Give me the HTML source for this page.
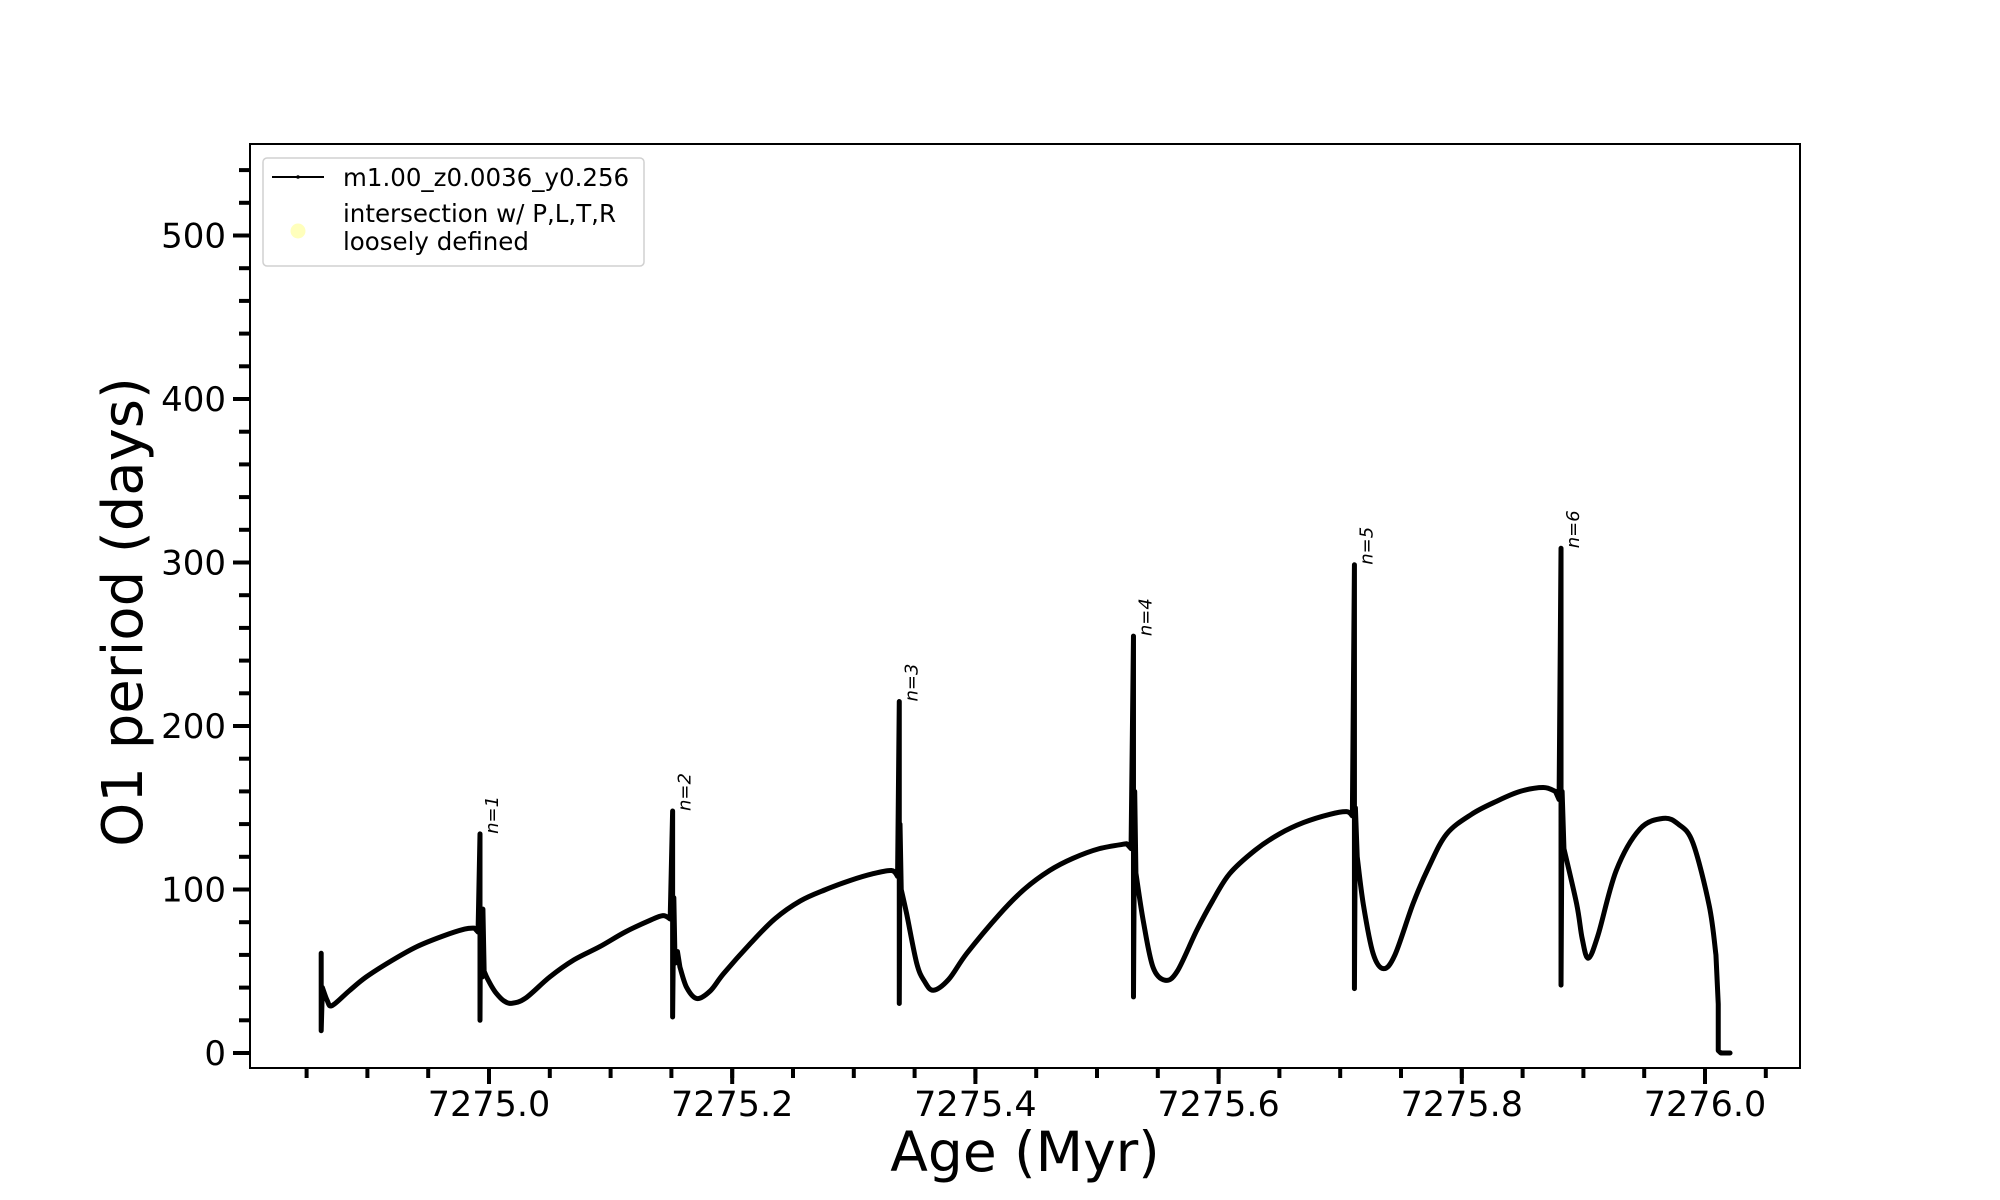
<!DOCTYPE html>
<html><head><meta charset="utf-8"><style>
html,body{margin:0;padding:0;background:#fff;}
svg{display:block;font-family:"DejaVu Sans","Liberation Sans",sans-serif;}
</style></head><body>
<svg id="chart" width="2000" height="1200" viewBox="0 0 2000 1200" xmlns="http://www.w3.org/2000/svg">
<rect x="0" y="0" width="2000" height="1200" fill="#fff"/>
<g id="marks"></g>
<g id="axes"></g>
<g>
<rect x="263" y="158" width="381" height="108" rx="4" fill="#fff" fill-opacity="0.8" stroke="#d0d0d0" stroke-width="1.5"/>
<line x1="272" y1="177" x2="324" y2="177" stroke="#000" stroke-width="2"/>
<circle cx="298" cy="177" r="1.8" fill="#000"/>
<text x="343" y="186" font-size="24.5" fill="#000">m1.00_z0.0036_y0.256</text>
<circle cx="298" cy="231" r="7.5" fill="#ffffb0" fill-opacity="0.85"/>
<text x="343" y="222" font-size="24.5" fill="#000">intersection w/ P,L,T,R</text>
<text x="343" y="250" font-size="24.5" fill="#000">loosely defined</text>
</g>
<text x="1025" y="1171" font-size="55" text-anchor="middle" fill="#000">Age (Myr)</text>
<text transform="translate(142,612) rotate(-90)" font-size="56" text-anchor="middle" fill="#000">O1 period (days)</text>
</svg>
<script>
const ages = [7274.862,7274.862,7274.862,7274.863,7274.867,7274.871,7274.885,7274.899,7274.92,7274.9405,7274.962,7274.98,7274.988,7274.991,
7274.9926,7274.9926,7274.993,7274.9945,7274.995,7274.996,7274.998,7275.002,7275.006,7275.012,7275.0187,7275.03,7275.05,7275.07,7275.091,7275.112,7275.132,7275.143,7275.149,
7275.151,7275.151,7275.152,7275.153,7275.155,7275.157,7275.1626,7275.171,7275.182,7275.193,7275.215,7275.235,7275.256,7275.277,7275.297,7275.315,7275.331,7275.336,
7275.3374,7275.3374,7275.338,7275.339,7275.3435,7275.3517,7275.358,7275.3654,7275.378,7275.393,7275.42,7275.44,7275.461,7275.48,7275.502,7275.5244,7275.528,
7275.530,7275.530,7275.531,7275.532,7275.538,7275.546,7275.556,7275.566,7275.582,7275.595,7275.609,7275.63,7275.65,7275.67,7275.6916,7275.7053,7275.710,
7275.7117,7275.7117,7275.7125,7275.714,7275.719,7275.727,7275.7355,7275.745,7275.76,7275.773,7275.7876,7275.808,7275.8287,7275.848,7275.867,7275.877,7275.88,
7275.8816,7275.8816,7275.8825,7275.884,7275.8945,7275.899,7275.904,7275.912,7275.927,7275.9465,7275.9657,7275.978,7275.99,7276.0035,7276.009,7276.0109,7276.0109,7276.013,7276.0206];
const periods = [40,61,13.6,40,32,29,38,46.5,56.5,65,71.5,75.8,76.4,74,
134,20,88,46.5,88,50,46.5,41,36.5,32,30.4,33.5,46.5,57,65,74,81,84,82,
148,22,95,55,62,52.6,40,33.3,38,48.6,67,82,93,100,105.5,109.5,111.6,108,
215,30.3,140,100,85,55,44,38.4,45,61,85,100,111.6,119,125,128,125,
255,34.3,160,110,81,52.6,44.5,50,75,93,109.6,124,134,141,146,147.6,145,
298.6,39.4,150,120,91,61,51.6,60,91.5,114,134,146,154,160,162.4,160,155,
308.7,41.5,160,125,91,70,58,72,111.6,137,143.5,140,128.6,90,60,30,1.5,0,0];
const pulseLabels = ["n=1","n=2","n=3","n=4","n=5","n=6"];
const pulseAges = [7274.9926,7275.151,7275.3374,7275.530,7275.7117,7275.8816];
const pulsePeaks = [134,148,215,255,298.6,308.7];
const xMajorTicks = [7275.0,7275.2,7275.4,7275.6,7275.8,7276.0];
const xTickLabels = ["7275.0","7275.2","7275.4","7275.6","7275.8","7276.0"];
const yMajorTicks = [0,100,200,300,400,500];
const yTickLabels = ["0","100","200","300","400","500"];

const X0=250,X1=1800,Y0=144,Y1=1068;
function xs(v){return 489+(v-7275)*1216;}
function ys(v){return 1053-v*1.635;}
const NS="http://www.w3.org/2000/svg";
function mk(tag,attrs,parent){const e=document.createElementNS(NS,tag);for(const k in attrs)e.setAttribute(k,attrs[k]);parent.appendChild(e);return e;}
const marks=document.getElementById('marks');
const axes=document.getElementById('axes');

const P=ages.map((a,i)=>[xs(a),ys(periods[i])]);
const n=P.length;
function smoothGap(i,j){return i>=0&&j<n&&(P[j][0]-P[i][0])>4.5;}
let d="M"+P[0][0].toFixed(2)+","+P[0][1].toFixed(2);
for(let i=0;i<n-1;i++){
  const a=P[i],b=P[i+1];
  if(!smoothGap(i,i+1)){d+="L"+b[0].toFixed(2)+","+b[1].toFixed(2);continue;}
  const p0=smoothGap(i-1,i)?P[i-1]:a;
  const p3=smoothGap(i+1,i+2)?P[i+2]:b;
  const c1=[a[0]+(b[0]-p0[0])/6,a[1]+(b[1]-p0[1])/6];
  const c2=[b[0]-(p3[0]-a[0])/6,b[1]-(p3[1]-a[1])/6];
  d+="C"+c1[0].toFixed(2)+","+c1[1].toFixed(2)+" "+c2[0].toFixed(2)+","+c2[1].toFixed(2)+" "+b[0].toFixed(2)+","+b[1].toFixed(2);
}
const line=mk('path',{d:d,fill:"none",stroke:"#000","stroke-width":"5","stroke-linejoin":"round","stroke-linecap":"round"},marks);



for(let i=0;i<pulseLabels.length;i++){
  const t=mk('text',{transform:"translate("+(xs(pulseAges[i])+18).toFixed(1)+","+(ys(pulsePeaks[i])).toFixed(1)+") rotate(-90)","font-size":"18","font-style":"italic",fill:"#000"},marks);
  t.textContent=pulseLabels[i];
  
  
}

const frame=mk('rect',{x:X0,y:Y0,width:X1-X0,height:Y1-Y0,fill:"none",stroke:"#000","stroke-width":"2"},axes);



for(let k=0;k<25;k++){
  const v=7274.85+k*0.05; const px=xs(v);
  if(px<X0||px>X1)continue;
  const tk=mk('line',{x1:px,y1:Y1,x2:px,y2:Y1+10,stroke:"#000","stroke-width":"4"},axes);
  
  
}
for(let i=0;i<xMajorTicks.length;i++){
  const px=xs(xMajorTicks[i]);
  const tk=mk('line',{x1:px,y1:Y1,x2:px,y2:Y1+16,stroke:"#000","stroke-width":"4"},axes);
  
  
  const t=mk('text',{x:px,y:1116,"font-size":"35","text-anchor":"middle",fill:"#000"},axes);
  t.textContent=xTickLabels[i];
  
  
}
for(let v=20;v<=540;v+=20){
  if(v%100===0)continue;
  const py=ys(v);
  const tk=mk('line',{x1:X0-11,y1:py,x2:X0,y2:py,stroke:"#000","stroke-width":"4"},axes);
  
  
}
for(let i=0;i<yMajorTicks.length;i++){
  const py=ys(yMajorTicks[i]);
  const tk=mk('line',{x1:X0-17,y1:py,x2:X0,y2:py,stroke:"#000","stroke-width":"4"},axes);
  
  
  const t=mk('text',{x:226,y:py+12,"font-size":"34","text-anchor":"end",fill:"#000"},axes);
  t.textContent=yTickLabels[i];
  
  
}
</script>
</body></html>
